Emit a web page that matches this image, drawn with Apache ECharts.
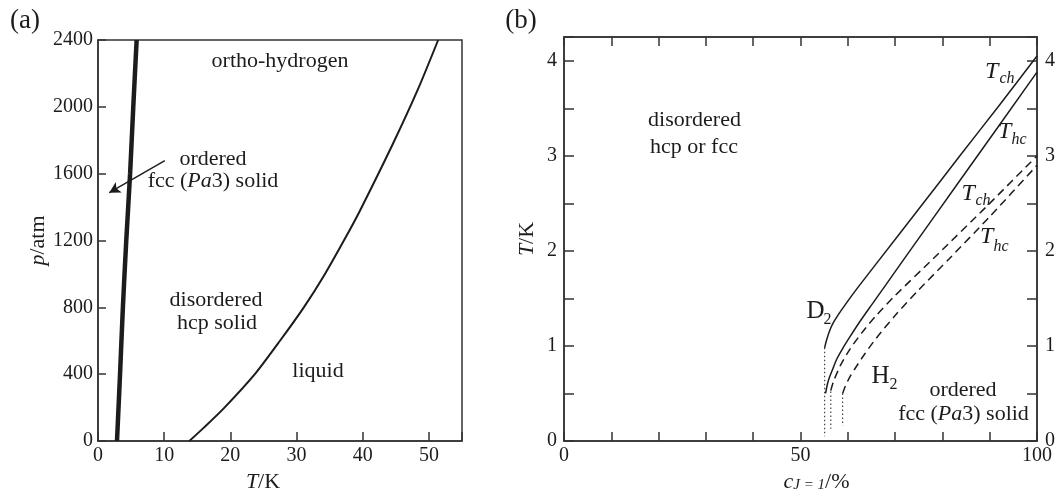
<!DOCTYPE html>
<html><head><meta charset="utf-8">
<script src="https://cdn.jsdelivr.net/npm/echarts@6/dist/echarts.min.js"></script>
<style>html,body{margin:0;padding:0;background:#fff}#c{width:1055px;height:497px}</style>
</head><body><div id="c"></div>
<script>
// ---------- Panel (a): p (atm) vs T (K) ----------
const ordT  = [2.87, 3.33, 3.76, 4.27, 4.85, 5.33, 5.84];
const ordP  = [0, 400, 800, 1200, 1600, 2000, 2400];
const meltT = [13.8, 16, 19, 23.7, 27.5, 31.1, 34.3, 37.3, 39.6, 44.6, 48.3, 51.4];
const meltP = [0, 80, 195, 400, 600, 800, 1000, 1210, 1380, 1782, 2101, 2400];
const arrowFrom = [10.1, 1678];
const arrowTo   = [1.7, 1486];
const aXLabels = [0, 10, 20, 30, 40, 50];
const aYLabels = [0, 400, 800, 1200, 1600, 2000, 2400];

// ---------- Panel (b): T (K) vs c_{J=1} (%) ----------
const d2TchC = [55.1, 55.5, 56.2, 57.0, 58.0, 59.4, 61.9, 66.4, 75, 83.7, 92, 100];
const d2TchT = [0.98, 1.06, 1.165, 1.25, 1.33, 1.43, 1.60, 1.89, 2.44, 3.0, 3.53, 4.05];
const d2ThcC = [55.3, 55.7, 56.2, 57.0, 57.65, 59.0, 60.5, 62.6, 65.0, 68, 72.4, 83.7, 100];
const d2ThcT = [0.50, 0.60, 0.68, 0.78, 0.86, 0.98, 1.10, 1.26, 1.43, 1.64, 1.95, 2.74, 3.88];
const h2TchC = [56.4, 57.0, 58.5, 60.5, 63, 66, 70, 78.1, 90, 100];
const h2TchT = [0.53, 0.63, 0.80, 0.97, 1.14, 1.32, 1.53, 1.92, 2.50, 3.0];
const h2ThcC = [58.9, 59.5, 60.5, 61.5, 63.5, 66, 70, 75, 81.5, 90, 100];
const h2ThcT = [0.50, 0.58, 0.68, 0.76, 0.91, 1.08, 1.32, 1.59, 1.92, 2.36, 2.90];
const dotC   = [55.1, 56.4, 58.9];
const dotTop = [0.98, 0.52, 0.50];
const dotBot = [0.05, 0.13, 0.16];
const bXLabels = [0, 50, 100];
const bYLabels = [0, 1, 2, 3, 4];

const FONT = "'Liberation Serif','DejaVu Serif',serif";
const INK = '#1c1c1c';
const AX = '#333';

const zip = (a, b) => a.map((v, i) => [v, b[i]]);

function lineSeries(name, xs, ys, grid, width, type) {
  return {
    name, type: 'line', xAxisIndex: grid === 0 ? 0 : 1, yAxisIndex: grid === 0 ? 0 : 1,
    data: zip(xs, ys), showSymbol: false, smooth: 0.25, silent: true,
    lineStyle: { color: INK, width, type: type || 'solid' }, z: 3
  };
}

const series = [
  lineSeries('ordered boundary', ordT, ordP, 0, 4.5),
  Object.assign(lineSeries('melting', meltT, meltP, 0, 2), {
    markLine: {
      silent: true, symbol: ['none', 'arrow'], symbolSize: [9, 11],
      label: { show: false },
      lineStyle: { color: INK, width: 1.4, type: 'solid' },
      data: [[{ coord: arrowFrom }, { coord: arrowTo }]]
    }
  }),
  lineSeries('D2 Tch', d2TchC, d2TchT, 1, 1.5),
  lineSeries('D2 Thc', d2ThcC, d2ThcT, 1, 1.5),
  lineSeries('H2 Tch', h2TchC, h2TchT, 1, 1.5, [8, 5]),
  lineSeries('H2 Thc', h2ThcC, h2ThcT, 1, 1.5, [8, 5])
];
dotC.forEach((c, i) => {
  series.push({
    type: 'line', xAxisIndex: 1, yAxisIndex: 1, showSymbol: false, silent: true,
    data: [[c, dotTop[i]], [c, dotBot[i]]],
    lineStyle: { color: '#444', width: 1.2, type: [1.5, 2.5] }, z: 2
  });
});

const tickStyle = (len) => ({ show: true, inside: true, length: len, lineStyle: { color: AX, width: 1.5 } });
const axisLine = { show: true, onZero: false, lineStyle: { color: AX, width: 1.5 } };
const labStyle = { fontFamily: FONT, fontSize: 20, color: INK };

const option = {
  backgroundColor: '#fff',
  animation: false,
  grid: [
    { left: 98, right: 593, top: 40, bottom: 56, show: true, borderColor: AX, borderWidth: 1.5, containLabel: false, outerBoundsMode: 'none' },
    { left: 564, right: 18, top: 37, bottom: 56, show: true, borderColor: AX, borderWidth: 1.5, containLabel: false, outerBoundsMode: 'none' }
  ],
  xAxis: [
    {
      gridIndex: 0, type: 'value', min: 0, max: 55, interval: 10, position: 'bottom',
      axisLine, axisTick: tickStyle(9), splitLine: { show: false },
      axisLabel: Object.assign({ margin: 5, formatter: v => aXLabels.includes(v) ? String(v) : '' }, labStyle),
      name: '{i|T}/K', nameLocation: 'middle', nameGap: 28,
      nameTextStyle: { fontFamily: FONT, fontSize: 22, color: INK, padding: [0, 34, 0, 0],
        rich: { i: { fontFamily: FONT, fontSize: 22, fontStyle: 'italic', color: INK } } }
    },
    {
      gridIndex: 1, type: 'value', min: 0, max: 100, interval: 10, position: 'bottom',
      axisLine, axisTick: tickStyle(9), splitLine: { show: false },
      axisLabel: Object.assign({ margin: 5, formatter: v => bXLabels.includes(v) ? String(v) : '' }, labStyle),
      name: '{c|c}{s|J = 1}{n|/%}', nameLocation: 'middle', nameGap: 27,
      nameTextStyle: { fontFamily: FONT, fontSize: 22, color: INK, padding: [0, 0, 0, 32],
        rich: {
          c: { fontFamily: FONT, fontSize: 22, fontStyle: 'italic', color: INK, verticalAlign: 'top', lineHeight: 22, padding: [0, 0, 6, 0] },
          s: { fontFamily: FONT, fontSize: 15, fontStyle: 'italic', color: INK, verticalAlign: 'bottom', lineHeight: 15 },
          n: { fontFamily: FONT, fontSize: 22, color: INK, verticalAlign: 'top', lineHeight: 22, padding: [0, 0, 6, 0] }
        } }
    },
    {
      gridIndex: 1, type: 'value', min: 0, max: 100, interval: 10, position: 'top',
      axisLine, axisTick: tickStyle(9), axisLabel: { show: false }, splitLine: { show: false }
    }
  ],
  yAxis: [
    {
      gridIndex: 0, type: 'value', min: 0, max: 2400, interval: 400, position: 'left',
      axisLine, axisTick: tickStyle(8), splitLine: { show: false },
      axisLabel: Object.assign({ margin: 5, formatter: v => aYLabels.includes(v) ? String(v) : '' }, labStyle),
      name: '{i|p}/atm', nameLocation: 'middle', nameGap: 46,
      nameTextStyle: { fontFamily: FONT, fontSize: 22, color: INK,
        rich: { i: { fontFamily: FONT, fontSize: 22, fontStyle: 'italic', color: INK } } }
    },
    {
      gridIndex: 1, type: 'value', min: 0, max: 4.25, interval: 0.5, position: 'left',
      axisLine, axisTick: tickStyle(10), splitLine: { show: false },
      axisLabel: Object.assign({ margin: 7, formatter: v => bYLabels.includes(v) ? String(v) : '' }, labStyle),
      name: '{i|T}/K', nameLocation: 'middle', nameGap: 26,
      nameTextStyle: { fontFamily: FONT, fontSize: 22, color: INK,
        rich: { i: { fontFamily: FONT, fontSize: 22, fontStyle: 'italic', color: INK } } }
    },
    {
      gridIndex: 1, type: 'value', min: 0, max: 4.25, interval: 0.5, position: 'right',
      axisLine, axisTick: tickStyle(10), splitLine: { show: false },
      axisLabel: Object.assign({ margin: 8, formatter: v => bYLabels.includes(v) ? String(v) : '' }, labStyle)
    }
  ],
  series
};

// ---------- text annotations ----------
function txt(x, y, text, size, opt) {
  opt = opt || {};
  return {
    type: 'text', x, y, silent: true, z: 10,
    style: Object.assign({
      text, fill: INK, font: (opt.italic ? 'italic ' : '') + size + 'px ' + FONT,
      align: opt.align || 'center', verticalAlign: 'middle'
    }, opt.rich ? { rich: opt.rich } : {})
  };
}
const pa3Rich = {
  n: { fontFamily: FONT, fontSize: 22, fill: INK },
  i: { fontFamily: FONT, fontSize: 22, fontStyle: 'italic', fill: INK }
};
const graphics = [
  txt(25, 21, '(a)', 27),
  txt(280, 61, 'ortho-hydrogen', 22),
  txt(213, 159.5, 'ordered', 22),
  txt(213, 181, '{n|fcc (}{i|Pa}{n|3) solid}', 22, { rich: pa3Rich }),
  txt(216, 300.5, 'disordered', 22),
  txt(217, 323.5, 'hcp solid', 22),
  txt(318, 371.5, 'liquid', 22),
  txt(521, 21, '(b)', 27),
  txt(694.5, 120, 'disordered', 22),
  txt(694, 147.5, 'hcp or fcc', 22),
  txt(963, 390, 'ordered', 22),
  txt(963.5, 414, '{n|fcc (}{i|Pa}{n|3) solid}', 22, { rich: pa3Rich }),
  txt(806.5, 311.5, 'D', 25, { align: 'left' }),
  txt(823.5, 319.6, '2', 16, { align: 'left' }),
  txt(871.5, 376.5, 'H', 25, { align: 'left' }),
  txt(889.5, 384.6, '2', 16, { align: 'left' }),
  txt(985, 71.8, 'T', 24, { align: 'left', italic: true }),
  txt(999.5, 78.6, 'ch', 16, { align: 'left', italic: true }),
  txt(998, 131.8, 'T', 24, { align: 'left', italic: true }),
  txt(1011.5, 139.6, 'hc', 16, { align: 'left', italic: true }),
  txt(961.5, 193.5, 'T', 24, { align: 'left', italic: true }),
  txt(975.5, 200.6, 'ch', 16, { align: 'left', italic: true }),
  txt(980, 236.8, 'T', 24, { align: 'left', italic: true }),
  txt(993.5, 246.6, 'hc', 16, { align: 'left', italic: true })
];
option.graphic = { elements: graphics };

const chart = echarts.init(document.getElementById('c'), null, { renderer: 'canvas' });
chart.setOption(option);
</script></body></html>
